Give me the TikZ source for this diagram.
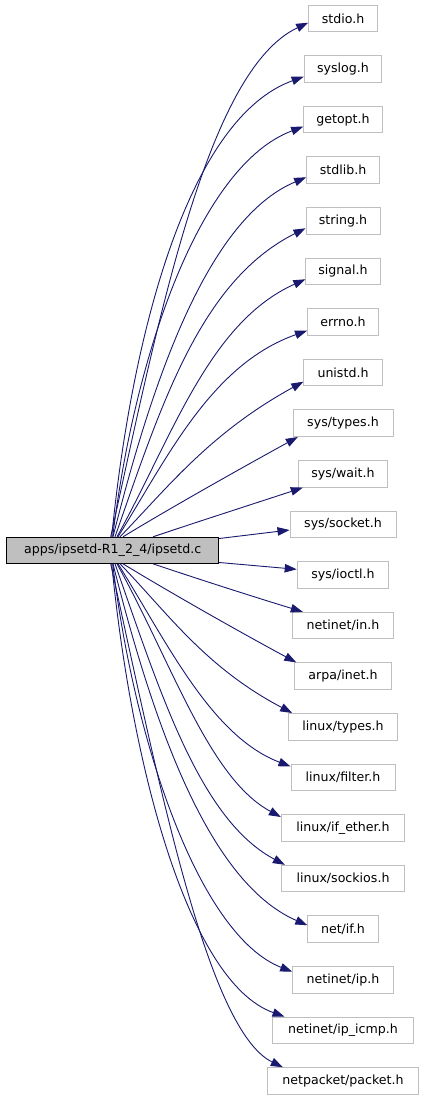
\documentclass[tikz,border=0pt]{standalone}
\usepackage{fontspec}
\setmainfont{DejaVu Sans}
\usetikzlibrary{arrows.meta}
\definecolor{edgec}{HTML}{191970}
\definecolor{greyb}{HTML}{BFBFBF}
\begin{document}
\begin{tikzpicture}[x=1pt,y=-1pt,
  inc/.style={draw=greyb,line width=1pt,fill=white,inner sep=0pt,minimum height=26.6pt,minimum width=#1,font=\fontsize{12.6pt}{15pt}\selectfont},
  mainbox/.style={draw=black,line width=1pt,fill=greyb,inner sep=0pt,minimum height=26pt,minimum width=212pt,font=\fontsize{12.6pt}{15pt}\selectfont},
  edge/.style={draw=edgec,line width=0.9pt,-{Triangle[length=12pt,width=8.5pt]}}]
\useasboundingbox (0,0) rectangle (424,1101);
\fill[white] (0,0) rectangle (424,1101);
\node[mainbox] (main) at (112.7,550.3) {apps/ipsetd-R1\_2\_4/ipsetd.c};
\node[inc=68.7pt] (n0) at (343,18.4) {stdio.h};
\node[inc=77.7pt] (n1) at (343,69.0) {syslog.h};
\node[inc=78.7pt] (n2) at (343,119.6) {getopt.h};
\node[inc=72.7pt] (n3) at (343,170.2) {stdlib.h};
\node[inc=74pt] (n4) at (343,220.8) {string.h};
\node[inc=74.3pt] (n5) at (343,271.4) {signal.h};
\node[inc=71pt] (n6) at (343,322.0) {errno.h};
\node[inc=78.4pt] (n7) at (343,372.6) {unistd.h};
\node[inc=100pt] (n8) at (343,423.2) {sys/types.h};
\node[inc=89.4pt] (n9) at (343,473.8) {sys/wait.h};
\node[inc=106pt] (n10) at (343,524.4) {sys/socket.h};
\node[inc=91.6pt] (n11) at (343,575.0) {sys/ioctl.h};
\node[inc=100.6pt] (n12) at (343,625.6) {netinet/in.h};
\node[inc=96.4pt] (n13) at (343,676.2) {arpa/inet.h};
\node[inc=109.6pt] (n14) at (343,726.8) {linux/types.h};
\node[inc=104pt] (n15) at (343,777.4) {linux/filter.h};
\node[inc=123.3pt] (n16) at (343,828.0) {linux/if\_ether.h};
\node[inc=123.3pt] (n17) at (343,878.6) {linux/sockios.h};
\node[inc=70.4pt] (n18) at (343,929.2) {net/if.h};
\node[inc=100.6pt] (n19) at (343,979.8) {netinet/ip.h};
\node[inc=141.6pt] (n20) at (343,1030.4) {netinet/ip\_icmp.h};
\node[inc=151pt] (n21) at (343,1081.0) {netpacket/packet.h};
% upper edges
\draw[edge] ([xshift=-2pt]main.north) .. controls (160,312) and (208,70) .. ([yshift=-4.3pt]n0.west);
\draw[edge] ([xshift=-1pt]main.north) .. controls (132,331) and (189,118) .. ([yshift=-7.7pt]n1.west);
\draw[edge] (main.north) .. controls (134.7,354.3) and (200,165) .. ([yshift=-7.1pt]n2.west);
\draw[edge] ([xshift=0.3pt]main.north) .. controls (152.4,380.2) and (207.6,218.6) .. ([yshift=-7.1pt]n3.west);
\draw[edge] ([xshift=2.3pt]main.north) .. controls (160.9,406.1) and (200,281) .. ([yshift=-7.5pt]n4.west);
\draw[edge] ([xshift=4.3pt]main.north) .. controls (172.9,435.7) and (209,322.5) .. ([yshift=-7.9pt]n5.west);
\draw[edge] ([xshift=5.3pt]main.north) .. controls (167,458.3) and (211,364.5) .. ([yshift=-8.7pt]n6.west);
\draw[edge] ([xshift=7.3pt]main.north) .. controls (168.3,486.9) and (209.8,433.1) .. ([yshift=-9.1pt]n7.west);
\draw[edge] ([xshift=10.3pt]main.north) .. controls (173,506.3) and (248.3,464.2) .. ([xshift=5.3pt]n8.south west);
\draw[edge] ([xshift=40.3pt]main.north) .. controls (203,520) and (253,504) .. ([xshift=5pt]n9.south west);
\draw[edge] ([yshift=-1.7pt]main.north east) -- ([yshift=-5.6pt]n10.west);
\draw[edge] ([yshift=1.3pt]main.south east) -- ([yshift=5.7pt]n11.west);
% lower edges
\draw[edge] ([xshift=40.3pt]main.south) .. controls (203,580.6) and (253,596.6) .. ([xshift=10.6pt]n12.north west);
\draw[edge] ([xshift=10.3pt]main.south) .. controls (173,594.3) and (246.7,635.8) .. ([xshift=2pt]n13.north west);
\draw[edge] ([xshift=7.3pt]main.south) .. controls (168.3,613.7) and (205,667) .. ([xshift=4.5pt]n14.north west);
\draw[edge] ([xshift=5.3pt]main.south) .. controls (167,642.3) and (211,736.1) .. ([yshift=11pt]n15.west);
\draw[edge] ([xshift=4.3pt]main.south) .. controls (172.9,664.9) and (209,778.1) .. ([yshift=11pt]n16.west);
\draw[edge] ([xshift=2.3pt]main.south) .. controls (160.9,694.5) and (200,819.6) .. ([xshift=4pt]n17.north west);
\draw[edge] ([xshift=0.3pt]main.south) .. controls (152.4,720.4) and (207.6,882) .. ([yshift=4pt]n18.west);
\draw[edge] (main.south) .. controls (134.7,746.3) and (200,935.6) .. ([yshift=8.1pt]n19.west);
\draw[edge] ([xshift=-1pt]main.south) .. controls (132,769.6) and (189,982.6) .. ([xshift=12.8pt]n20.north west);
\draw[edge] ([xshift=-2pt]main.south) .. controls (160,788.6) and (208,1030.6) .. ([xshift=15.8pt]n21.north west);
\end{tikzpicture}
\end{document}
